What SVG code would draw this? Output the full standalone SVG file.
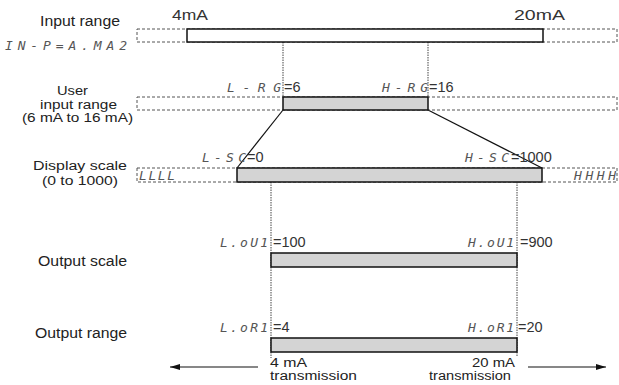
<svg xmlns="http://www.w3.org/2000/svg" width="619" height="385" viewBox="0 0 619 385">
<style>
.lbl{font-family:"Liberation Sans",Arial,sans-serif;font-size:14px;fill:#222}
.sm{font-family:"Liberation Sans",Arial,sans-serif;font-size:12.5px;fill:#222}
.tx{font-family:"Liberation Sans",Arial,sans-serif;font-size:12px;fill:#222}
.seg{font-family:"DejaVu Sans Mono",monospace;font-style:italic;font-size:13px;fill:#555}
.val{font-family:"Liberation Sans",Arial,sans-serif;font-size:14.5px;fill:#333}
.dash{fill:none;stroke:#555;stroke-width:1;stroke-dasharray:3,2}
.dot{fill:none;stroke:#444;stroke-width:1;stroke-dasharray:1.5,1}
.bar{fill:#d4d4d4;stroke:#111;stroke-width:1.5}
.wbar{fill:#fff;stroke:#111;stroke-width:1.5}
.ln{stroke:#111;stroke-width:1.2;fill:none}
</style>
<defs>
<marker id="ah" viewBox="0 0 10 6" refX="10" refY="3" markerWidth="10" markerHeight="6" markerUnits="userSpaceOnUse" orient="auto">
<path d="M0,0 L10,3 L0,6 Z" fill="#111"/>
</marker>
</defs>

<g id="connectors">
<line class="dot" x1="283" y1="42" x2="283" y2="97"/>
<line class="dot" x1="428" y1="42" x2="428" y2="97"/>
<line class="dot" x1="271" y1="182" x2="271" y2="358"/>
<line class="dot" x1="517" y1="182" x2="517" y2="357"/>
<line class="ln" x1="283" y1="110" x2="237" y2="168"/>
<line class="ln" x1="428" y1="110" x2="542" y2="168"/>
<line class="ln" x1="258" y1="367" x2="170" y2="367" marker-end="url(#ah)"/>
<line class="ln" x1="528" y1="367" x2="606" y2="367" marker-end="url(#ah)"/>
</g>

<g id="input-range">
<rect class="dash" x="137" y="29" width="480" height="13"/>
<rect class="wbar" x="187" y="29" width="356" height="13"/>
<text class="lbl" x="40" y="26" textLength="80" lengthAdjust="spacingAndGlyphs">Input range</text>
<text class="seg" x="5" y="50" textLength="122" lengthAdjust="spacing">IN-P=A.MA2</text>
<text class="val" x="172" y="20" textLength="36" lengthAdjust="spacingAndGlyphs">4mA</text>
<text class="val" x="514" y="20" textLength="51" lengthAdjust="spacingAndGlyphs">20mA</text>
</g>

<g id="user-input-range">
<rect class="dash" x="137" y="97" width="480" height="13"/>
<rect class="bar" x="283" y="97" width="145" height="13"/>
<text class="sm" x="57" y="95" textLength="31" lengthAdjust="spacingAndGlyphs">User</text>
<text class="sm" x="40" y="108.5" textLength="77" lengthAdjust="spacingAndGlyphs">input range</text>
<text class="sm" x="22" y="122" textLength="111" lengthAdjust="spacingAndGlyphs">(6 mA to 16 mA)</text>
<text class="seg" x="227" y="92" textLength="54" lengthAdjust="spacing">L-RG</text>
<text class="val" x="284" y="92">=6</text>
<text class="seg" x="382" y="92" textLength="46" lengthAdjust="spacing">H-RG</text>
<text class="val" x="429" y="92">=16</text>
</g>

<g id="display-scale">
<rect class="dash" x="137" y="168" width="480" height="14"/>
<rect class="bar" x="237" y="168" width="305" height="14"/>
<text class="sm" x="33" y="170" textLength="94" lengthAdjust="spacingAndGlyphs">Display scale</text>
<text class="sm" x="42" y="185" textLength="76" lengthAdjust="spacingAndGlyphs">(0 to 1000)</text>
<text class="seg" x="202" y="162" textLength="44" lengthAdjust="spacing">L-SC</text>
<text class="val" x="247" y="162">=0</text>
<text class="seg" x="465" y="162" textLength="44" lengthAdjust="spacing">H-SC</text>
<text class="val" x="511" y="162">=1000</text>
<text class="seg" x="139" y="180" font-size="10" textLength="36" lengthAdjust="spacing">LLLL</text>
<text class="seg" x="574" y="180" font-size="10" textLength="42" lengthAdjust="spacing">HHHH</text>
</g>

<g id="output-scale">
<rect class="bar" x="271" y="253" width="246" height="14"/>
<text class="lbl" x="38" y="266" textLength="89" lengthAdjust="spacingAndGlyphs">Output scale</text>
<text class="seg" x="220" y="247" textLength="48" lengthAdjust="spacing">L.oU1</text>
<text class="val" x="273" y="247">=100</text>
<text class="seg" x="468" y="247" textLength="46" lengthAdjust="spacing">H.oU1</text>
<text class="val" x="520" y="247">=900</text>
</g>

<g id="output-range">
<rect class="bar" x="271" y="338" width="246" height="14"/>
<text class="lbl" x="35" y="338" textLength="92" lengthAdjust="spacingAndGlyphs">Output range</text>
<text class="seg" x="220" y="332" textLength="48" lengthAdjust="spacing">L.oR1</text>
<text class="val" x="273" y="332">=4</text>
<text class="seg" x="468" y="332" textLength="46" lengthAdjust="spacing">H.oR1</text>
<text class="val" x="518" y="332">=20</text>
<text class="tx" x="270" y="366.5" textLength="37" lengthAdjust="spacingAndGlyphs">4 mA</text>
<text class="tx" x="270" y="379.5" textLength="87" lengthAdjust="spacingAndGlyphs">transmission</text>
<text class="tx" x="472" y="366.5" textLength="43" lengthAdjust="spacingAndGlyphs">20 mA</text>
<text class="tx" x="429" y="379.5" textLength="82" lengthAdjust="spacingAndGlyphs">transmission</text>
</g>
</svg>
